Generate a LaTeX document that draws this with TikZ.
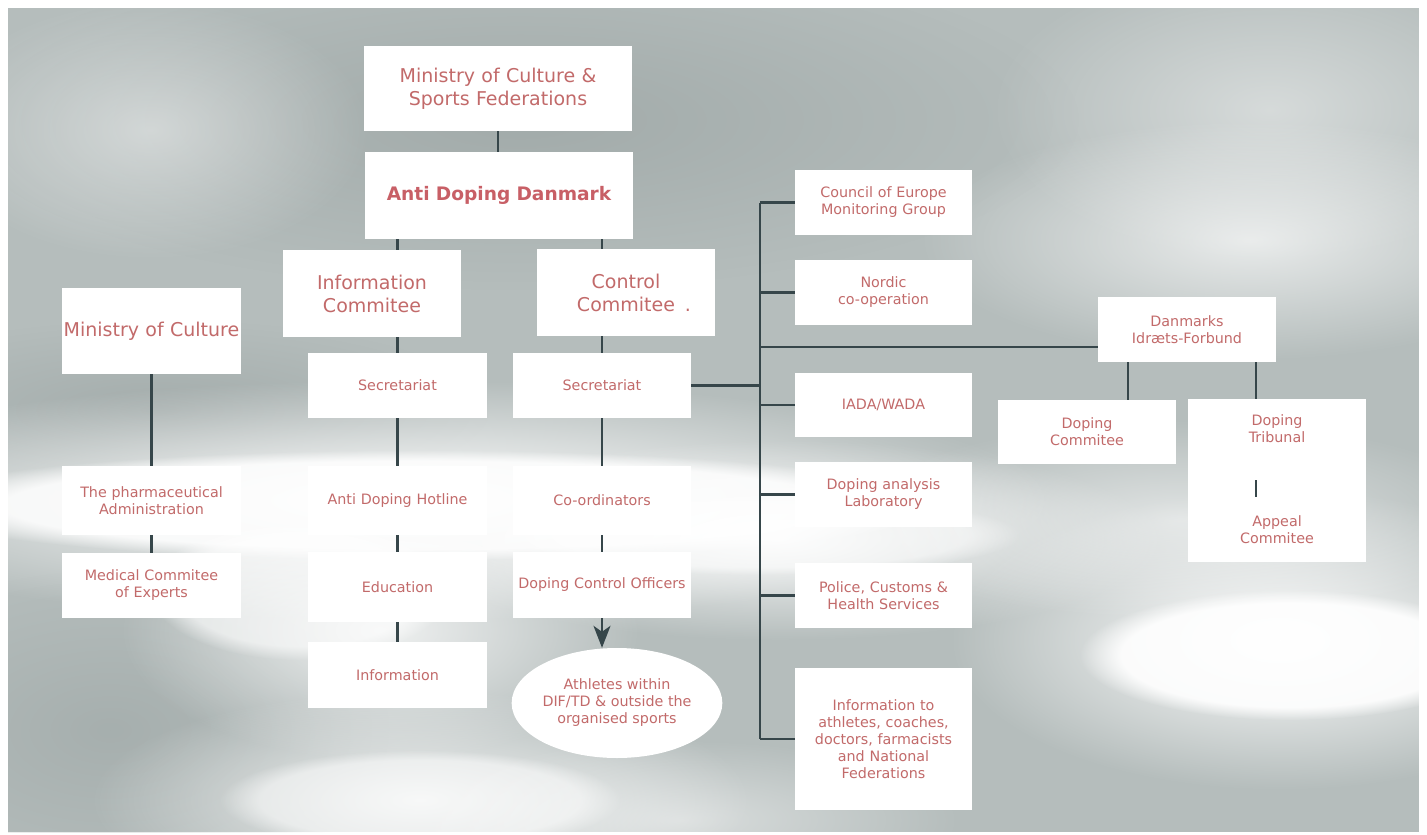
\documentclass[tikz,border=0pt]{standalone}
\usepackage{fontspec}
\setmainfont{DejaVu Sans}
\usetikzlibrary{shapes.geometric,arrows.meta,fadings}
\definecolor{bgc}{HTML}{B5BDBC}
\definecolor{bgd}{HTML}{A0A9A8}
\definecolor{txt}{HTML}{C26A6A}
\definecolor{txtb}{HTML}{C85F66}
\definecolor{lnc}{HTML}{36464A}
\tikzfading[name=softc, inner color=transparent!0, outer color=transparent!100]
\tikzset{
  box/.style={rectangle, fill=white, inner sep=0pt, align=center, text=txt,
    font=\fontsize{14.3}{17}\selectfont, text width=#1},
  box/.default={170pt},
  bigbox/.style={rectangle, fill=white, inner sep=0pt, align=center, text=txt,
    font=\fontsize{19}{23}\selectfont, text width=190pt},
  conn/.style={draw=lnc, line width=2.2pt},
  cloud/.style={fill=white, path fading=softc},
  core/.style={fill=white, path fading=circle with fuzzy edge 20 percent},
  darkcloud/.style={fill=bgd, path fading=softc},
}
\begin{document}
\begin{tikzpicture}[x=1pt,y=-1pt]
\useasboundingbox (0,0) rectangle (1427,835);
\fill[white] (0,0) rectangle (1427,835);
% photo background
\begin{scope}
\clip (8,8) rectangle (1419,832);
\fill[bgc] (8,8) rectangle (1419,832);
\fill[darkcloud, opacity=0.9] (520,120) ellipse [x radius=560, y radius=170];
\fill[darkcloud, opacity=0.8] (160,410) ellipse [x radius=330, y radius=90];
\fill[darkcloud, opacity=0.7] (110,730) ellipse [x radius=280, y radius=160];
\fill[cloud, opacity=0.45] (150,130) ellipse [x radius=220, y radius=130];
\fill[cloud, opacity=0.45] (1270,110) ellipse [x radius=280, y radius=150];
\fill[cloud, opacity=0.7] (1250,240) ellipse [x radius=330, y radius=120];
\fill[cloud] (400,500) ellipse [x radius=650, y radius=120];
\fill[core, opacity=0.85] (420,505) ellipse [x radius=520, y radius=55];
\fill[core, opacity=0.6] (300,590) ellipse [x radius=150, y radius=70];
\fill[cloud, opacity=0.9] (780,540) ellipse [x radius=380, y radius=100];
\fill[core, opacity=0.5] (760,535) ellipse [x radius=260, y radius=40];
\fill[cloud, opacity=0.8] (380,630) ellipse [x radius=260, y radius=130];
\fill[cloud, opacity=0.8] (420,800) ellipse [x radius=330, y radius=110];
\fill[core, opacity=0.5] (420,800) ellipse [x radius=200, y radius=50];
\fill[cloud] (1280,640) ellipse [x radius=330, y radius=150];
\fill[core, opacity=0.9] (1290,655) ellipse [x radius=210, y radius=65];
\fill[cloud, opacity=0.6] (1180,520) ellipse [x radius=330, y radius=100];
\fill[cloud, opacity=0.5] (680,820) ellipse [x radius=280, y radius=80];
\end{scope}

% top
\node[bigbox, text width=268pt, minimum width=268pt, minimum height=85pt] (mcsf) at (498,88.5)
  {Ministry of Culture \&\\Sports Federations};
\node[bigbox, text width=268pt, minimum width=268pt, minimum height=87pt, text=txtb,
  font=\fontsize{18.6}{23}\selectfont\bfseries] (add) at (499,195.5) {Anti Doping Danmark};
\node[bigbox, text width=178pt, minimum width=178pt, minimum height=87pt] (infoc) at (372,293.5)
  {Information\\Commitee};
\node[bigbox, text width=178pt, minimum width=178pt, minimum height=87pt] (ctrlc) at (626,292.5)
  {Control\\Commitee\rlap{\hspace{10pt}.}};

% left column
\node[bigbox, text width=179pt, minimum width=179pt, minimum height=86pt] (minc) at (151.5,331)
  {Ministry of Culture};
\node[box=179pt, minimum width=179pt, minimum height=69pt] (pharma) at (151.5,500.5)
  {The pharmaceutical\\Administration};
\node[box=179pt, minimum width=179pt, minimum height=65pt] (medical) at (151.5,585.5)
  {Medical Commitee\\of Experts};

% information column
\node[box=179pt, minimum width=179pt, minimum height=65pt] (isec) at (397.5,385.5) {Secretariat};
\node[box=179pt, minimum width=179pt, minimum height=69pt] (hotline) at (397.5,500.5) {Anti Doping Hotline};
\node[box=179pt, minimum width=179pt, minimum height=70pt] (edu) at (397.5,587) {Education};
\node[box=179pt, minimum width=179pt, minimum height=66pt] (info) at (397.5,675) {Information};

% control column
\node[box=178pt, minimum width=178pt, minimum height=65pt] (csec) at (602,385.5) {Secretariat};
\node[box=178pt, minimum width=178pt, minimum height=69pt] (coord) at (602,500.5) {Co-ordinators};
\node[box=178pt, minimum width=178pt, minimum height=66pt] (dco) at (602,585) {Doping Control Officers};
\node[ellipse, fill=white, inner sep=0pt, align=center, text=txt,
  font=\fontsize{14.3}{17}\selectfont, minimum width=204pt, minimum height=110pt] (ath) at (617,703)
  {Athletes within\\DIF/TD \& outside the\\organised sports};

% right column
\node[box=177pt, minimum width=177pt, minimum height=65pt] (coe) at (883.5,202.5)
  {Council of Europe\\Monitoring Group};
\node[box=177pt, minimum width=177pt, minimum height=65pt] (nordic) at (883.5,292.5)
  {Nordic\\co-operation};
\node[box=177pt, minimum width=177pt, minimum height=64pt] (iada) at (883.5,405) {IADA/WADA};
\node[box=177pt, minimum width=177pt, minimum height=65pt] (lab) at (883.5,494.5)
  {Doping analysis\\Laboratory};
\node[box=177pt, minimum width=177pt, minimum height=65pt] (police) at (883.5,595.5)
  {Police, Customs \&\\Health Services};
\node[box=177pt, minimum width=177pt, minimum height=142pt] (infoath) at (883.5,739)
  {Information to\\athletes, coaches,\\doctors, farmacists\\and National\\Federations};

% DIF
\node[box=178pt, minimum width=178pt, minimum height=65pt] (dif) at (1187,329.5)
  {Danmarks\\Idræts-Forbund};
\node[box=178pt, minimum width=178pt, minimum height=64pt] (dcom) at (1087,432)
  {Doping\\Commitee};
\fill[white] (1188,457) rectangle (1366,498);
\node[box=178pt, minimum width=178pt, minimum height=59pt] (trib) at (1277,428.5)
  {Doping\\Tribunal};
\node[box=178pt, minimum width=178pt, minimum height=65pt] (appeal) at (1277,529.5)
  {Appeal\\Commitee};

% helper coordinates
\coordinate (busx) at (760,0);
\coordinate (hl) at (760,347);
\coordinate (dcl) at (1128,0);
\coordinate (dtr) at (1256,0);

% connectors
\draw[conn] (mcsf.south) -- (mcsf.south |- add.north);
\draw[conn] (add.south -| isec.north) -- (infoc.north -| isec.north);
\draw[conn] (add.south -| csec.north) -- (ctrlc.north -| csec.north);
\draw[conn] (infoc.south -| isec.north) -- (isec.north);
\draw[conn] (ctrlc.south -| csec.north) -- (csec.north);
\draw[conn] (isec.south) -- (hotline.north);
\draw[conn] (hotline.south) -- (edu.north);
\draw[conn] (edu.south) -- (info.north);
\draw[conn] (csec.south) -- (coord.north);
\draw[conn] (coord.south) -- (dco.north);
\draw[conn, -{Stealth[length=22pt, width=17pt, inset=6pt]}] (dco.south) -- (dco.south |- ath.north);
\draw[conn] (minc.south) -- (pharma.north);
\draw[conn] (pharma.south) -- (medical.north);

\draw[conn] (csec.east) -- (csec.east -| busx);
\draw[conn] (coe.west -| busx) -- (infoath.west -| busx);
\foreach \n in {coe,nordic,iada,lab,police,infoath}
  \draw[conn] (\n.west -| busx) -- (\n.west);
\draw[conn] (hl) -- (hl -| dif.west);
\draw[conn] (dif.south -| dcl) -- (dcom.north -| dcl);
\draw[conn] (dif.south -| dtr) -- (trib.north -| dtr);
\draw[conn] ([yshift=-22pt]trib.south -| dtr) -- (appeal.north -| dtr);
\end{tikzpicture}
\end{document}
